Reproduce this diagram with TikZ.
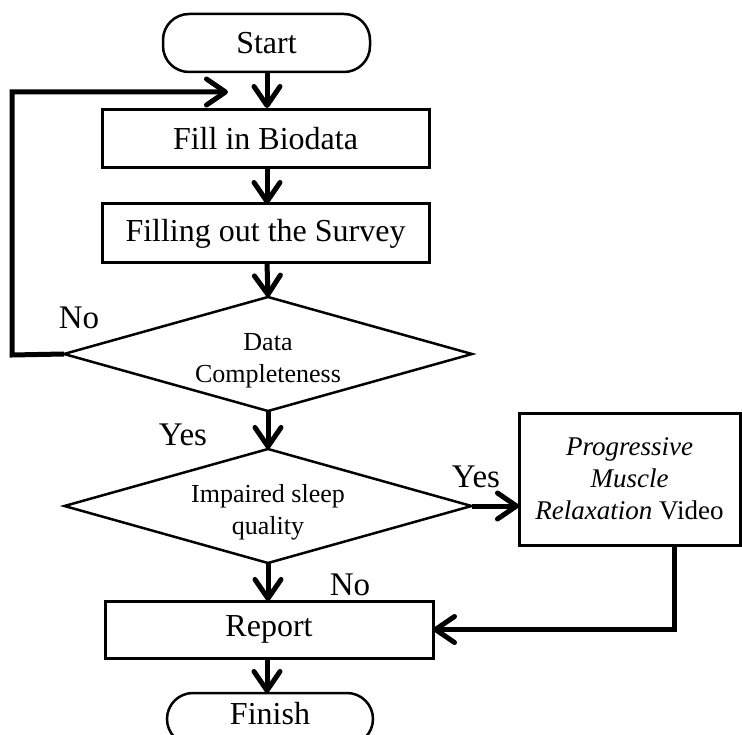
\documentclass[tikz,border=0pt]{standalone}
\usepackage{fontspec}
\setmainfont{Liberation Serif}
\usetikzlibrary{arrows.meta,shapes.geometric}
\newcommand{\dtext}[1]{\raisebox{-12.5pt}[0pt][0pt]{\begin{tabular}{@{}c@{}}#1\end{tabular}}}
\begin{document}
\begin{tikzpicture}[x=1pt,y=-1pt,
  bigtxt/.style={font=\fontsize{32}{36}\selectfont},
  smalltxt/.style={font=\fontsize{26}{32}\selectfont},
  lbltxt/.style={font=\fontsize{33}{36}\selectfont},
  term/.style={draw,line width=2.5pt,rounded corners=26pt,inner sep=0pt,outer sep=0pt,bigtxt},
  proc/.style={draw,line width=3pt,inner sep=0pt,outer sep=0pt,bigtxt},
  dec/.style={draw,diamond,aspect=3.58,line width=2.5pt,inner sep=0pt,outer sep=0pt,smalltxt},
  lbl/.style={lbltxt,anchor=base,inner sep=0pt},
  flow/.style={line width=5pt,-{Straight Barb[length=19pt,width=26pt,round]}},
]
\clip (0,0) rectangle (742,735);
\fill[white] (0,0) rectangle (742,735);

\node[term,minimum width=207pt,minimum height=58pt] (start) at (266.5,43) {Start};
\node[proc,minimum width=327pt,minimum height=58pt] (fill) at (265.5,139) {Fill in Biodata};
\node[proc,minimum width=327pt,minimum height=59pt] (survey) at (265.5,233.5) {Filling out the Survey};
\node[dec,minimum width=408pt,minimum height=114pt] (d1) at (268,354) {\dtext{Data\\Completeness}};
\node[dec,minimum width=407pt,minimum height=114pt] (d2) at (268,506) {\dtext{Impaired sleep\\quality}};
\node[proc,minimum width=221pt,minimum height=132pt,font=\fontsize{27}{32}\selectfont,align=center] (pmr) at (629.5,479)
  {\textit{Progressive}\\\textit{Muscle}\\\textit{Relaxation} Video};
\node[proc,minimum width=328pt,minimum height=57pt] (report) at (269,629.5) {Report};
\node[term,minimum width=206pt,minimum height=52pt] (finish) at (270,719) {};
\node[bigtxt,inner sep=0pt] (finishtxt) at (270,714) {Finish};

\node[lbl] (lno1) at (79,329) {No};
\node[lbl] (lyes1) at (183,445) {Yes};
\node[lbl] (lyes2) at (476,487) {Yes};
\node[lbl] (lno2) at (350,595) {No};

\coordinate (fbk) at (228,92);
\coordinate (pmrout) at (674,545);

\draw[flow] (start.south -| 267,0) -- (267,108);
\draw[flow] (fill.south -| 267,0) -- (267,204);
\draw[flow] (survey.south -| 267,0) -- (d1.north);
\draw[flow] (d1.south) -- (d2.north);
\draw[flow] (d2.south) -- (report.north -| d2.south);
\draw[flow] (report.south -| 267,0) -- (finish.north -| 267,0);
\draw[flow] (d2.east) -- (pmr.west |- d2.east);
\draw[flow] (d1.west) -- (12,355) -- (12,92) -- (fbk);
\draw[flow] (pmrout) |- (report.east);
\end{tikzpicture}
\end{document}
